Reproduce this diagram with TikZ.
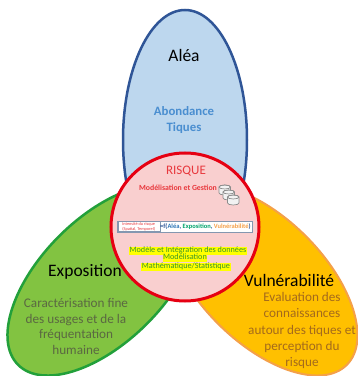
\documentclass[tikz,border=0pt]{standalone}
\usepackage{fontspec}
\setmainfont{Carlito}
\definecolor{bluefill}{HTML}{BDD7EE}
\definecolor{bluestroke}{HTML}{2F5597}
\definecolor{greenfill}{HTML}{82C341}
\definecolor{greenstroke}{HTML}{22A03A}
\definecolor{orangefill}{HTML}{FFC000}
\definecolor{orangestroke}{HTML}{F4A04A}
\definecolor{pinkfill}{HTML}{F9CFCF}
\definecolor{redstroke}{HTML}{E60012}
\definecolor{abondblue}{HTML}{4A8ED0}
\definecolor{exptext}{HTML}{5B6842}
\definecolor{vultext}{HTML}{A46A1C}
\definecolor{risquered}{HTML}{E8383D}
\definecolor{hlgreen}{HTML}{3A9628}
\definecolor{hlyellow}{HTML}{FFFF00}
\definecolor{aleablue}{HTML}{2E75B6}
\definecolor{expgreen}{HTML}{00A36C}
\definecolor{vulorange}{HTML}{F5A04A}
\definecolor{boxgray}{HTML}{8497B0}
\definecolor{dbgray}{HTML}{8C8C8C}
\definecolor{dbfill}{HTML}{F2F2F2}
\begin{document}
\begin{tikzpicture}[x=1pt,y=1pt,
  txt/.style={inner sep=0pt, align=center},
  bigtitle/.style={txt, font=\fontsize{17.5}{21}\selectfont},
  hl/.style={inner xsep=0.6pt, inner ysep=0pt, text height=5.6pt, text depth=1.7pt,
     fill=hlyellow, text=hlgreen, font=\fontsize{8.2}{9}\selectfont},
  dbcyl/.pic={
    \path[draw=dbgray, fill=dbfill, line width=0.7pt]
      (0,-2) -- (0,-8) arc[start angle=180, end angle=360, x radius=5.75, y radius=2]
      -- (11.5,-2) arc[start angle=0, end angle=180, x radius=5.75, y radius=2] -- cycle;
    \path[draw=dbgray, line width=0.7pt] (5.75,-2) ellipse[x radius=5.75, y radius=2];
  }]
\useasboundingbox (0,0) rectangle (358,376);
\fill[white] (0,0) rectangle (358,376);
% ellipses
\draw[bluestroke, fill=bluefill, line width=2.5pt] (185,236) ellipse[x radius=62, y radius=130];
\draw[greenstroke, fill=greenfill, line width=2.5pt, rotate around={45:(103,96)}]
  (103,96) ellipse[x radius=120, y radius=62];
\draw[orangestroke, fill=orangefill, line width=2pt, rotate around={-45:(262,96)}]
  (262,96) ellipse[x radius=120, y radius=62];
% central circle
\draw[redstroke, fill=pinkfill, line width=3pt] (185,149) circle[radius=74];
% titles
\node[bigtitle] (alea) at (184,321) {Aléa};
\node[txt, text=abondblue, font=\bfseries\fontsize{12.8}{16}\selectfont] (abond) at (184,256) {Abondance\\Tiques};
\node[bigtitle] (expo) at (85,104) {Exposition};
\node[txt, text=exptext, font=\fontsize{13.2}{15.7}\selectfont] (expotext) at (76,49.5)
  {Caractérisation fine\\des usages et de la\\fréquentation\\humaine};
\node[bigtitle] (vuln) at (289,96) {Vulnérabilité};
\node[txt, text=vultext, font=\fontsize{13.2}{16.25}\selectfont] (vultxt) at (302,45.5)
  {Evaluation des\\connaissances\\autour des tiques et\\perception du\\risque};
% circle content
\node[txt, text=risquered, font=\fontsize{13}{15}\selectfont] (risque) at (186,205) {RISQUE};
\node[txt, text=risquered, font=\bfseries\fontsize{7.8}{9}\selectfont] (modges) at (178,188) {Modélisation et Gestion};
\pic (db1) at (219,191) {dbcyl};
\pic (db2) at (223,186) {dbcyl};
\pic (db3) at (227.5,181) {dbcyl};
% formula box
\draw[boxgray, fill=white, line width=0.8pt] (117,144) rectangle (252,155);
\node[draw=boxgray, line width=0.5pt, minimum width=42pt, minimum height=10pt, inner sep=0pt,
  anchor=west, text=risquered, align=left, font=\fontsize{4.3}{4.9}\selectfont]
  (lab) at (117.5,149.5) {Intensité du risque\\(Spatial, Temporel)};
\node[inner sep=0pt, anchor=west, text=bluestroke, font=\bfseries\fontsize{6.5}{7}\selectfont]
  (form) at (lab.east) {=f(\textcolor{aleablue}{Aléa}, \textcolor{expgreen}{Exposition}, \textcolor{vulorange}{Vulnérabilité})};
% highlighted lines
\node[hl] (hl1) at (188,125) {Modèle et Intégration des données};
\node[hl] (hl2) at (185,118) {Modélisation};
\node[hl] (hl3) at (186,109) {Mathématique/Statistique};
\end{tikzpicture}
\end{document}
